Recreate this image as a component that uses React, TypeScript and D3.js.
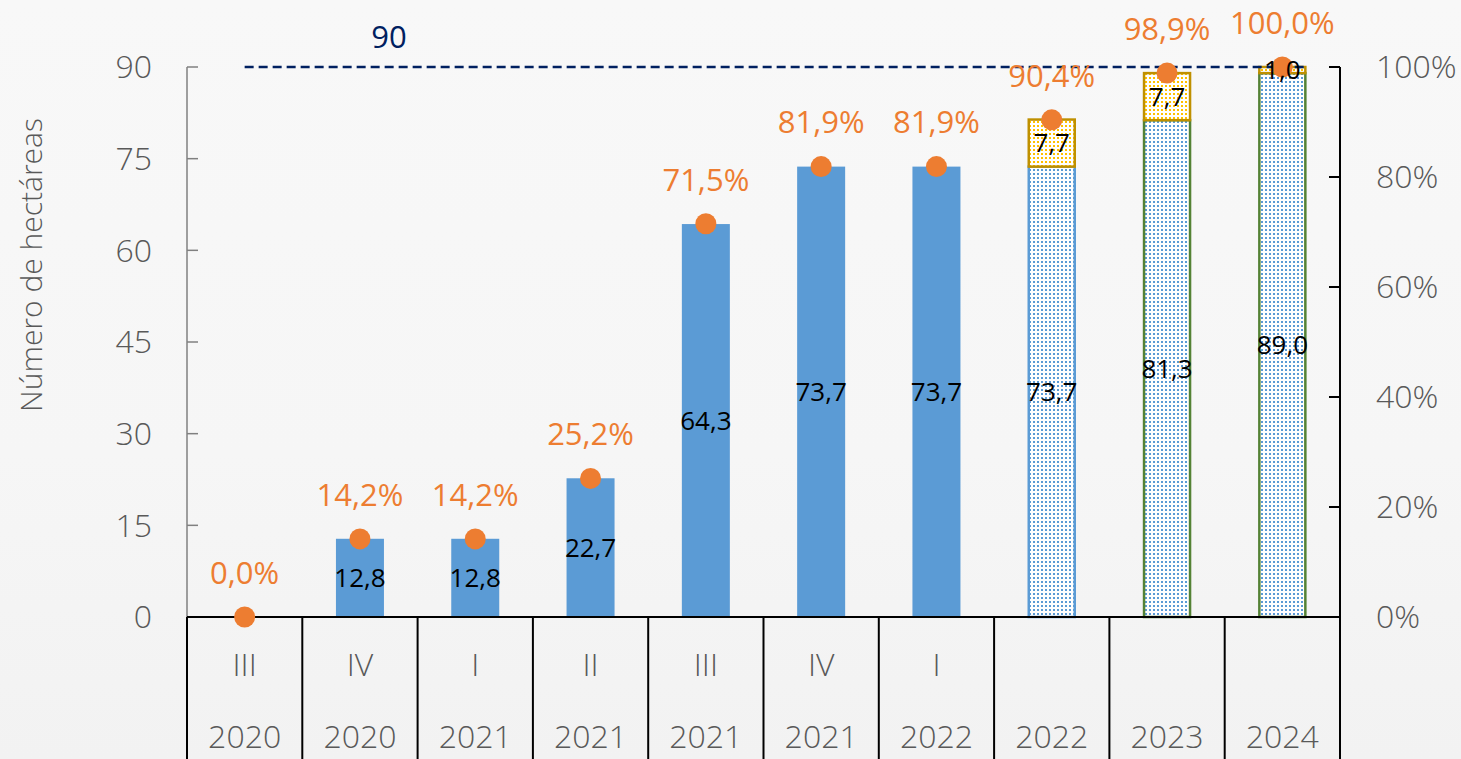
import { useMemo } from "react";
import * as d3 from "d3";

// Category table: quarter (row 1) and year (row 2)
const QUARTERS = ["III", "IV", "I", "II", "III", "IV", "I", "", "", ""];
const YEARS = ["2020", "2020", "2021", "2021", "2021", "2021", "2022", "2022", "2023", "2024"];

// Hectares executed (solid bars) and projected (dotted bars + yellow increment)
const EXECUTED = [0, 12.8, 12.8, 22.7, 64.3, 73.7, 73.7, null, null, null];
const PROJECTED_BASE = [null, null, null, null, null, null, null, 73.7, 81.3, 89.0];
const PROJECTED_ADD = [null, null, null, null, null, null, null, 7.7, 7.7, 1.0];

// Cumulative progress against the 90 ha target (right axis)
const PROGRESS = [0, 14.2, 14.2, 25.2, 71.5, 81.9, 81.9, 90.4, 98.9, 100.0];

const TARGET = 90;
const LEFT_TICKS = [0, 15, 30, 45, 60, 75, 90];
const RIGHT_TICKS = [0, 0.2, 0.4, 0.6, 0.8, 1];

const W = 1461;
const H = 759;
const PLOT = { left: 187, right: 1340, top: 67, bottom: 617 };

const BLUE = "#5B9BD5";
const ORANGE = "#ED7D31";
const GOLD = "#BF9000";
const YELLOW = "#FFC000";
const GREEN = "#548235";
const NAVY = "#002060";
const GREY = "#595959";
const FONT = "'Open Sans', 'Noto Sans', sans-serif";

const esLocale = d3.formatLocale({ decimal: ",", thousands: ".", grouping: [3], currency: ["", " €"] });
const fmt1 = esLocale.format(".1f");
const fmtPct = esLocale.format(".0%");

export default function App() {
    const idx = d3.range(YEARS.length).map(String);
    const x = useMemo(() => d3.scaleBand().domain(idx).range([PLOT.left, PLOT.right]).padding(0), []);
    const y = d3.scaleLinear().domain([0, 90]).range([PLOT.bottom, PLOT.top]);
    const yR = d3.scaleLinear().domain([0, 1]).range([PLOT.bottom, PLOT.top]);

    const barW = 48;
    const cx = (i: number) => (x(String(i)) ?? 0) + x.bandwidth() / 2;

    return (
        <div style={{ position: "absolute", left: 0, top: 0 }}>
            <svg width={W} height={H} style={{ display: "block", fontFamily: FONT }}>
                <defs>
                    <pattern id="dotBlue" width="4" height="4" patternUnits="userSpaceOnUse">
                        <rect width="4" height="4" fill="#ffffff" />
                        <rect x="1" y="1" width="2" height="2" fill={BLUE} />
                    </pattern>
                    <pattern id="dotYellow" width="4" height="4" patternUnits="userSpaceOnUse">
                        <rect width="4" height="4" fill="#ffffff" />
                        <rect x="1" y="1" width="2" height="2" fill={YELLOW} />
                    </pattern>
                    <linearGradient id="bg" x1="0" y1="0" x2="0" y2="1">
                        <stop offset="0" stopColor="#f8f8f8" />
                        <stop offset="0.6" stopColor="#f6f6f6" />
                        <stop offset="1" stopColor="#f2f2f2" />
                    </linearGradient>
                </defs>
                <rect width={W} height={H} fill="url(#bg)" />

                {/* solid executed bars */}
                {EXECUTED.map((v, i) =>
                    v ? (
                        <rect key={"e" + i} x={cx(i) - barW / 2} y={y(v)} width={barW} height={y(0) - y(v)} fill={BLUE} />
                    ) : null
                )}

                {/* dotted projected bars */}
                {PROJECTED_BASE.map((v, i) =>
                    v == null ? null : (
                        <rect
                            key={"p" + i}
                            x={cx(i) - barW / 2 + 1}
                            y={y(v)}
                            width={barW - 2}
                            height={y(0) - y(v)}
                            fill="url(#dotBlue)"
                            stroke={YEARS[i] >= "2023" ? GREEN : BLUE}
                            strokeWidth={2.5}
                        />
                    )
                )}
                {PROJECTED_ADD.map((v, i) => {
                    const base = PROJECTED_BASE[i];
                    if (v == null || base == null) return null;
                    return (
                        <rect
                            key={"a" + i}
                            x={cx(i) - barW / 2 + 1}
                            y={y(base + v)}
                            width={barW - 2}
                            height={y(base) - y(base + v)}
                            fill="url(#dotYellow)"
                            stroke={GOLD}
                            strokeWidth={2.5}
                        />
                    );
                })}

                {/* target line */}
                <line x1={cx(0)} x2={cx(9) + 22} y1={y(TARGET)} y2={y(TARGET)} stroke={NAVY} strokeWidth={2.5} strokeDasharray="9 5" />
                <text x={389} y={y(TARGET) - 30} dy="0.35em" textAnchor="middle" fill={NAVY} fontSize={31}>
                    {TARGET}
                </text>

                {/* left axis */}
                <line x1={PLOT.left} x2={PLOT.left} y1={PLOT.top} y2={PLOT.bottom} stroke="#808080" strokeWidth={1.5} />
                {LEFT_TICKS.map((t) => (
                    <g key={"l" + t}>
                        <line x1={PLOT.left} x2={PLOT.left + 11} y1={y(t)} y2={y(t)} stroke="#808080" strokeWidth={1.5} />
                        <text x={152} y={y(t)} dy="0.35em" textAnchor="end" fill={GREY} fontSize={32} fontWeight={300}>
                            {t}
                        </text>
                    </g>
                ))}
                <text
                    transform={`translate(31,265) rotate(-90)`}
                    textAnchor="middle"
                    dy="0.35em"
                    fill={GREY}
                    fontSize={30}
                    fontWeight={300}
                >
                    Número de hectáreas
                </text>

                {/* right axis */}
                <line x1={PLOT.right} x2={PLOT.right} y1={PLOT.top} y2={H} stroke="#000" strokeWidth={2} />
                {RIGHT_TICKS.map((t) => (
                    <g key={"r" + t}>
                        <line x1={PLOT.right - 11} x2={PLOT.right} y1={yR(t)} y2={yR(t)} stroke="#000" strokeWidth={2} />
                        <text x={1376} y={yR(t)} dy="0.35em" textAnchor="start" fill={GREY} fontSize={32} fontWeight={300}>
                            {fmtPct(t)}
                        </text>
                    </g>
                ))}

                {/* category table */}
                <line x1={PLOT.left} x2={PLOT.right} y1={PLOT.bottom} y2={PLOT.bottom} stroke="#000" strokeWidth={2} />
                {d3.range(YEARS.length + 1).map((i) => {
                    const xx = i < YEARS.length ? x(String(i)) ?? 0 : PLOT.right;
                    return <line key={"d" + i} x1={xx} x2={xx} y1={PLOT.bottom} y2={H} stroke="#000" strokeWidth={2} />;
                })}
                {YEARS.map((yr, i) => (
                    <g key={"c" + i} fill={GREY} fontSize={32} fontWeight={300} textAnchor="middle">
                        <text x={cx(i)} y={665} dy="0.35em">
                            {QUARTERS[i]}
                        </text>
                        <text x={cx(i)} y={737} dy="0.35em">
                            {yr}
                        </text>
                    </g>
                ))}

                {/* bar value labels */}
                {EXECUTED.map((v, i) =>
                    v ? (
                        <text key={"ev" + i} x={cx(i)} y={(y(v) + y(0)) / 2} dy="0.35em" textAnchor="middle" fontSize={26} fill="#000">
                            {fmt1(v)}
                        </text>
                    ) : null
                )}
                {PROJECTED_BASE.map((v, i) =>
                    v == null ? null : (
                        <text key={"pv" + i} x={cx(i)} y={(y(v) + y(0)) / 2} dy="0.35em" textAnchor="middle" fontSize={26} fill="#000">
                            {fmt1(v)}
                        </text>
                    )
                )}

                {/* progress dots */}
                {PROGRESS.map((p, i) => (
                    <circle key={"o" + i} cx={cx(i)} cy={yR(p / 100)} r={10.5} fill={ORANGE} />
                ))}

                {PROJECTED_ADD.map((v, i) => {
                    const base = PROJECTED_BASE[i];
                    if (v == null || base == null) return null;
                    return (
                        <text key={"av" + i} x={cx(i)} y={(y(base + v) + y(base)) / 2} dy="0.35em" textAnchor="middle" fontSize={26} fill="#000">
                            {fmt1(v)}
                        </text>
                    );
                })}

                {PROGRESS.map((p, i) => (
                    <text key={"ol" + i} x={cx(i)} y={yR(p / 100) - 44} dy="0.35em" textAnchor="middle" fontSize={31} fill={ORANGE}>
                        {fmt1(p)}%
                    </text>
                ))}
            </svg>
        </div>
    );
}
